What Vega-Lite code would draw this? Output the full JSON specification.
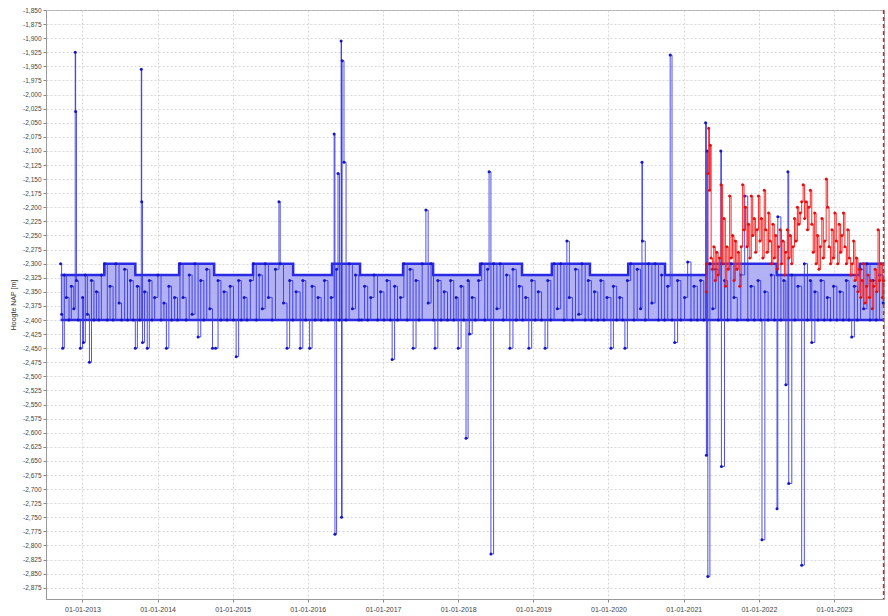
{
"$schema": "https://vega.github.io/schema/vega-lite/v6.json",
"width": 838, "height": 589,
"autosize": "none",
"padding": {"left": 46, "top": 10, "right": 4, "bottom": 17},
"background": "white",
"config": {
  "font": "Liberation Sans",
  "view": {"stroke": "#aaaaaa", "strokeWidth": 1},
  "axis": {"labelFontSize": 7, "labelColor": "#444444", "tickColor": "#888888", "tickSize": 3, "domainColor": "#999999", "gridColor": "#cccccc", "gridDash": [2, 2], "gridWidth": 0.8, "titleFontSize": 7, "titleFontWeight": "normal", "titleColor": "#333333", "labelOverlap": false, "labelBound": false}
},
"datasets": {
"levels": [
{"d":"2012-09-17","hi":-2.32,"lo":-2.40},{"d":"2013-04-17","hi":-2.30,"lo":-2.40},{"d":"2013-09-15","hi":-2.32,"lo":-2.40},{"d":"2014-04-16","hi":-2.30,"lo":-2.40},{"d":"2014-10-03","hi":-2.32,"lo":-2.40},{"d":"2015-04-10","hi":-2.30,"lo":-2.40},{"d":"2015-10-22","hi":-2.32,"lo":-2.40},{"d":"2016-04-28","hi":-2.30,"lo":-2.40},{"d":"2016-09-11","hi":-2.32,"lo":-2.40},{"d":"2017-04-08","hi":-2.30,"lo":-2.40},{"d":"2017-09-01","hi":-2.32,"lo":-2.40},{"d":"2018-04-17","hi":-2.30,"lo":-2.40},{"d":"2018-11-07","hi":-2.32,"lo":-2.40},{"d":"2019-04-01","hi":-2.30,"lo":-2.40},{"d":"2019-10-03","hi":-2.32,"lo":-2.40},{"d":"2020-04-06","hi":-2.30,"lo":-2.40},{"d":"2020-10-02","hi":-2.32,"lo":-2.40},{"d":"2021-04-22","hi":-2.30,"lo":-2.40},{"d":"2022-03-29","hi":-2.32,"lo":-2.40},{"d":"2023-05-06","hi":-2.30,"lo":-2.40},{"d":"2023-08-31","hi":-2.30,"lo":-2.40}
],
"blue": [
{"d":"2012-09-17","v":-2.30},{"d":"2012-09-22","v":-2.39},{"d":"2012-09-27","v":-2.45},{"d":"2012-10-05","v":-2.32},{"d":"2012-10-15","v":-2.36},{"d":"2012-10-28","v":-2.40},{"d":"2012-11-08","v":-2.34},{"d":"2012-11-20","v":-2.38},{"d":"2012-11-27","v":-1.925},{"d":"2012-11-29","v":-2.03},{"d":"2012-12-03","v":-2.33},{"d":"2012-12-12","v":-2.40},{"d":"2012-12-22","v":-2.45},{"d":"2013-01-02","v":-2.36},{"d":"2013-01-06","v":-2.44},{"d":"2013-01-15","v":-2.32},{"d":"2013-01-25","v":-2.39},{"d":"2013-02-04","v":-2.475},{"d":"2013-02-14","v":-2.33},{"d":"2013-02-26","v":-2.40},{"d":"2013-03-10","v":-2.35},{"d":"2013-03-22","v":-2.40},{"d":"2013-04-03","v":-2.32},{"d":"2013-04-20","v":-2.30},{"d":"2013-05-02","v":-2.40},{"d":"2013-05-15","v":-2.34},{"d":"2013-05-30","v":-2.40},{"d":"2013-06-12","v":-2.30},{"d":"2013-06-28","v":-2.37},{"d":"2013-07-10","v":-2.40},{"d":"2013-07-25","v":-2.31},{"d":"2013-08-08","v":-2.40},{"d":"2013-08-22","v":-2.33},{"d":"2013-09-05","v":-2.40},{"d":"2013-09-15","v":-2.45},{"d":"2013-09-25","v":-2.34},{"d":"2013-10-06","v":-2.40},{"d":"2013-10-14","v":-1.955},{"d":"2013-10-16","v":-2.19},{"d":"2013-10-20","v":-2.44},{"d":"2013-10-30","v":-2.35},{"d":"2013-11-12","v":-2.45},{"d":"2013-11-22","v":-2.33},{"d":"2013-12-05","v":-2.40},{"d":"2013-12-18","v":-2.36},{"d":"2014-01-03","v":-2.32},{"d":"2014-01-18","v":-2.40},{"d":"2014-02-01","v":-2.37},{"d":"2014-02-13","v":-2.45},{"d":"2014-02-25","v":-2.34},{"d":"2014-03-10","v":-2.40},{"d":"2014-03-25","v":-2.36},{"d":"2014-04-08","v":-2.40},{"d":"2014-04-20","v":-2.30},{"d":"2014-05-05","v":-2.36},{"d":"2014-05-20","v":-2.40},{"d":"2014-06-04","v":-2.32},{"d":"2014-06-18","v":-2.39},{"d":"2014-07-02","v":-2.30},{"d":"2014-07-17","v":-2.43},{"d":"2014-07-30","v":-2.33},{"d":"2014-08-14","v":-2.40},{"d":"2014-08-28","v":-2.31},{"d":"2014-09-12","v":-2.38},{"d":"2014-09-25","v":-2.45},{"d":"2014-10-10","v":-2.45},{"d":"2014-10-22","v":-2.33},{"d":"2014-11-05","v":-2.40},{"d":"2014-11-20","v":-2.35},{"d":"2014-12-05","v":-2.40},{"d":"2014-12-20","v":-2.34},{"d":"2015-01-05","v":-2.40},{"d":"2015-01-18","v":-2.465},{"d":"2015-01-30","v":-2.33},{"d":"2015-02-12","v":-2.40},{"d":"2015-02-26","v":-2.36},{"d":"2015-03-12","v":-2.40},{"d":"2015-03-28","v":-2.33},{"d":"2015-04-12","v":-2.30},{"d":"2015-04-26","v":-2.40},{"d":"2015-05-10","v":-2.32},{"d":"2015-05-25","v":-2.38},{"d":"2015-06-08","v":-2.30},{"d":"2015-06-24","v":-2.36},{"d":"2015-07-12","v":-2.40},{"d":"2015-07-28","v":-2.31},{"d":"2015-08-14","v":-2.19},{"d":"2015-08-20","v":-2.30},{"d":"2015-09-05","v":-2.37},{"d":"2015-09-22","v":-2.45},{"d":"2015-10-05","v":-2.33},{"d":"2015-10-20","v":-2.40},{"d":"2015-11-05","v":-2.35},{"d":"2015-11-25","v":-2.45},{"d":"2015-12-08","v":-2.33},{"d":"2015-12-22","v":-2.40},{"d":"2016-01-10","v":-2.45},{"d":"2016-01-22","v":-2.34},{"d":"2016-02-06","v":-2.40},{"d":"2016-02-20","v":-2.36},{"d":"2016-03-06","v":-2.40},{"d":"2016-03-22","v":-2.33},{"d":"2016-04-08","v":-2.40},{"d":"2016-04-24","v":-2.36},{"d":"2016-05-08","v":-2.07},{"d":"2016-05-12","v":-2.78},{"d":"2016-05-20","v":-2.31},{"d":"2016-05-27","v":-2.14},{"d":"2016-06-03","v":-2.40},{"d":"2016-06-11","v":-1.905},{"d":"2016-06-13","v":-2.75},{"d":"2016-06-16","v":-1.94},{"d":"2016-06-25","v":-2.12},{"d":"2016-07-05","v":-2.40},{"d":"2016-07-20","v":-2.30},{"d":"2016-08-05","v":-2.38},{"d":"2016-08-20","v":-2.32},{"d":"2016-09-05","v":-2.40},{"d":"2016-09-18","v":-2.40},{"d":"2016-10-03","v":-2.34},{"d":"2016-10-18","v":-2.40},{"d":"2016-11-02","v":-2.36},{"d":"2016-11-18","v":-2.32},{"d":"2016-12-05","v":-2.40},{"d":"2016-12-20","v":-2.35},{"d":"2017-01-05","v":-2.40},{"d":"2017-01-20","v":-2.33},{"d":"2017-02-05","v":-2.40},{"d":"2017-02-14","v":-2.47},{"d":"2017-02-26","v":-2.34},{"d":"2017-03-12","v":-2.40},{"d":"2017-03-27","v":-2.36},{"d":"2017-04-12","v":-2.30},{"d":"2017-04-28","v":-2.40},{"d":"2017-05-12","v":-2.31},{"d":"2017-05-27","v":-2.45},{"d":"2017-06-10","v":-2.33},{"d":"2017-06-25","v":-2.40},{"d":"2017-07-10","v":-2.30},{"d":"2017-07-28","v":-2.205},{"d":"2017-08-08","v":-2.37},{"d":"2017-08-22","v":-2.30},{"d":"2017-09-03","v":-2.40},{"d":"2017-09-10","v":-2.45},{"d":"2017-09-24","v":-2.33},{"d":"2017-10-10","v":-2.40},{"d":"2017-10-25","v":-2.35},{"d":"2017-11-10","v":-2.40},{"d":"2017-11-25","v":-2.33},{"d":"2017-12-10","v":-2.40},{"d":"2017-12-22","v":-2.36},{"d":"2018-01-01","v":-2.45},{"d":"2018-01-15","v":-2.34},{"d":"2018-01-28","v":-2.40},{"d":"2018-02-08","v":-2.61},{"d":"2018-02-18","v":-2.33},{"d":"2018-02-25","v":-2.425},{"d":"2018-03-10","v":-2.36},{"d":"2018-03-25","v":-2.40},{"d":"2018-04-10","v":-2.33},{"d":"2018-04-25","v":-2.30},{"d":"2018-05-10","v":-2.40},{"d":"2018-05-24","v":-2.31},{"d":"2018-05-31","v":-2.137},{"d":"2018-06-09","v":-2.815},{"d":"2018-06-22","v":-2.30},{"d":"2018-07-08","v":-2.38},{"d":"2018-07-24","v":-2.30},{"d":"2018-08-08","v":-2.40},{"d":"2018-08-24","v":-2.32},{"d":"2018-09-09","v":-2.45},{"d":"2018-09-24","v":-2.31},{"d":"2018-10-10","v":-2.40},{"d":"2018-10-25","v":-2.34},{"d":"2018-11-10","v":-2.40},{"d":"2018-11-25","v":-2.36},{"d":"2018-12-10","v":-2.45},{"d":"2018-12-24","v":-2.33},{"d":"2019-01-10","v":-2.40},{"d":"2019-01-25","v":-2.35},{"d":"2019-02-10","v":-2.40},{"d":"2019-02-27","v":-2.45},{"d":"2019-03-12","v":-2.33},{"d":"2019-03-27","v":-2.40},{"d":"2019-04-12","v":-2.30},{"d":"2019-04-28","v":-2.38},{"d":"2019-05-14","v":-2.30},{"d":"2019-05-30","v":-2.40},{"d":"2019-06-13","v":-2.26},{"d":"2019-06-25","v":-2.36},{"d":"2019-07-10","v":-2.40},{"d":"2019-07-25","v":-2.31},{"d":"2019-08-10","v":-2.39},{"d":"2019-08-25","v":-2.30},{"d":"2019-09-10","v":-2.40},{"d":"2019-09-25","v":-2.33},{"d":"2019-10-10","v":-2.40},{"d":"2019-10-25","v":-2.35},{"d":"2019-11-10","v":-2.40},{"d":"2019-11-25","v":-2.33},{"d":"2019-12-10","v":-2.40},{"d":"2019-12-25","v":-2.36},{"d":"2020-01-13","v":-2.45},{"d":"2020-01-25","v":-2.34},{"d":"2020-02-10","v":-2.40},{"d":"2020-02-25","v":-2.36},{"d":"2020-03-10","v":-2.40},{"d":"2020-03-21","v":-2.45},{"d":"2020-04-02","v":-2.33},{"d":"2020-04-18","v":-2.30},{"d":"2020-05-04","v":-2.40},{"d":"2020-05-20","v":-2.31},{"d":"2020-06-05","v":-2.38},{"d":"2020-06-12","v":-2.12},{"d":"2020-06-14","v":-2.26},{"d":"2020-06-28","v":-2.40},{"d":"2020-07-14","v":-2.30},{"d":"2020-07-30","v":-2.37},{"d":"2020-08-15","v":-2.30},{"d":"2020-08-31","v":-2.40},{"d":"2020-09-15","v":-2.32},{"d":"2020-09-30","v":-2.40},{"d":"2020-10-15","v":-2.34},{"d":"2020-10-27","v":-1.93},{"d":"2020-11-05","v":-2.40},{"d":"2020-11-18","v":-2.44},{"d":"2020-12-02","v":-2.33},{"d":"2020-12-18","v":-2.40},{"d":"2021-01-05","v":-2.36},{"d":"2021-01-20","v":-2.297},{"d":"2021-02-05","v":-2.40},{"d":"2021-02-20","v":-2.34},{"d":"2021-03-08","v":-2.40},{"d":"2021-03-24","v":-2.33},{"d":"2021-04-08","v":-2.40},{"d":"2021-04-17","v":-2.05},{"d":"2021-04-21","v":-2.64},{"d":"2021-04-25","v":-2.10},{"d":"2021-04-28","v":-2.855},{"d":"2021-05-08","v":-2.30},{"d":"2021-05-22","v":-2.38},{"d":"2021-06-05","v":-2.31},{"d":"2021-06-18","v":-2.40},{"d":"2021-06-30","v":-2.10},{"d":"2021-07-03","v":-2.66},{"d":"2021-07-18","v":-2.33},{"d":"2021-08-02","v":-2.40},{"d":"2021-08-18","v":-2.30},{"d":"2021-09-02","v":-2.36},{"d":"2021-09-18","v":-2.40},{"d":"2021-10-05","v":-2.32},{"d":"2021-10-24","v":-2.18},{"d":"2021-11-08","v":-2.40},{"d":"2021-11-24","v":-2.34},{"d":"2021-12-10","v":-2.40},{"d":"2021-12-28","v":-2.33},{"d":"2022-01-10","v":-2.40},{"d":"2022-01-16","v":-2.79},{"d":"2022-01-30","v":-2.35},{"d":"2022-02-15","v":-2.40},{"d":"2022-03-02","v":-2.32},{"d":"2022-03-18","v":-2.40},{"d":"2022-03-30","v":-2.735},{"d":"2022-04-03","v":-2.217},{"d":"2022-04-18","v":-2.40},{"d":"2022-05-02","v":-2.33},{"d":"2022-05-12","v":-2.515},{"d":"2022-05-22","v":-2.137},{"d":"2022-05-26","v":-2.69},{"d":"2022-06-10","v":-2.32},{"d":"2022-06-25","v":-2.40},{"d":"2022-07-10","v":-2.34},{"d":"2022-07-28","v":-2.835},{"d":"2022-08-10","v":-2.30},{"d":"2022-08-25","v":-2.40},{"d":"2022-09-08","v":-2.33},{"d":"2022-09-15","v":-2.44},{"d":"2022-09-30","v":-2.35},{"d":"2022-10-15","v":-2.40},{"d":"2022-10-30","v":-2.33},{"d":"2022-11-15","v":-2.40},{"d":"2022-11-30","v":-2.36},{"d":"2022-12-15","v":-2.40},{"d":"2022-12-30","v":-2.34},{"d":"2023-01-15","v":-2.40},{"d":"2023-01-30","v":-2.35},{"d":"2023-02-15","v":-2.40},{"d":"2023-03-02","v":-2.33},{"d":"2023-03-15","v":-2.40},{"d":"2023-03-28","v":-2.43},{"d":"2023-04-10","v":-2.34},{"d":"2023-04-25","v":-2.40},{"d":"2023-05-10","v":-2.31},{"d":"2023-05-25","v":-2.38},{"d":"2023-06-10","v":-2.30},{"d":"2023-06-25","v":-2.40},{"d":"2023-07-10","v":-2.33},{"d":"2023-07-25","v":-2.40},{"d":"2023-08-10","v":-2.32},{"d":"2023-08-28","v":-2.37}
],
"red": [
{"d":"2021-04-20","v":-2.35},{"d":"2021-04-24","v":-2.30},{"d":"2021-04-28","v":-2.14},{"d":"2021-05-02","v":-2.06},{"d":"2021-05-06","v":-2.17},{"d":"2021-05-10","v":-2.09},{"d":"2021-05-14","v":-2.29},{"d":"2021-05-20","v":-2.31},{"d":"2021-05-27","v":-2.27},{"d":"2021-06-03","v":-2.33},{"d":"2021-06-10","v":-2.28},{"d":"2021-06-17","v":-2.32},{"d":"2021-06-24","v":-2.29},{"d":"2021-07-01","v":-2.16},{"d":"2021-07-08","v":-2.30},{"d":"2021-07-15","v":-2.22},{"d":"2021-07-22","v":-2.34},{"d":"2021-07-29","v":-2.27},{"d":"2021-08-05","v":-2.31},{"d":"2021-08-12","v":-2.18},{"d":"2021-08-19","v":-2.29},{"d":"2021-08-26","v":-2.25},{"d":"2021-09-02","v":-2.33},{"d":"2021-09-09","v":-2.26},{"d":"2021-09-16","v":-2.31},{"d":"2021-09-23","v":-2.28},{"d":"2021-09-30","v":-2.34},{"d":"2021-10-07","v":-2.27},{"d":"2021-10-14","v":-2.16},{"d":"2021-10-21","v":-2.24},{"d":"2021-10-28","v":-2.20},{"d":"2021-11-04","v":-2.27},{"d":"2021-11-11","v":-2.23},{"d":"2021-11-18","v":-2.29},{"d":"2021-11-25","v":-2.18},{"d":"2021-12-02","v":-2.25},{"d":"2021-12-09","v":-2.22},{"d":"2021-12-16","v":-2.28},{"d":"2021-12-23","v":-2.24},{"d":"2021-12-30","v":-2.18},{"d":"2022-01-06","v":-2.26},{"d":"2022-01-13","v":-2.22},{"d":"2022-01-20","v":-2.29},{"d":"2022-01-27","v":-2.17},{"d":"2022-02-03","v":-2.24},{"d":"2022-02-10","v":-2.28},{"d":"2022-02-17","v":-2.21},{"d":"2022-02-24","v":-2.26},{"d":"2022-03-03","v":-2.30},{"d":"2022-03-10","v":-2.23},{"d":"2022-03-17","v":-2.29},{"d":"2022-03-24","v":-2.25},{"d":"2022-03-31","v":-2.31},{"d":"2022-04-07","v":-2.27},{"d":"2022-04-14","v":-2.24},{"d":"2022-04-21","v":-2.30},{"d":"2022-04-28","v":-2.26},{"d":"2022-05-05","v":-2.32},{"d":"2022-05-12","v":-2.28},{"d":"2022-05-19","v":-2.24},{"d":"2022-05-26","v":-2.29},{"d":"2022-06-02","v":-2.25},{"d":"2022-06-09","v":-2.30},{"d":"2022-06-16","v":-2.27},{"d":"2022-06-23","v":-2.22},{"d":"2022-06-30","v":-2.26},{"d":"2022-07-07","v":-2.20},{"d":"2022-07-14","v":-2.23},{"d":"2022-07-21","v":-2.21},{"d":"2022-07-28","v":-2.19},{"d":"2022-08-04","v":-2.16},{"d":"2022-08-11","v":-2.22},{"d":"2022-08-18","v":-2.19},{"d":"2022-08-25","v":-2.24},{"d":"2022-09-01","v":-2.20},{"d":"2022-09-08","v":-2.17},{"d":"2022-09-15","v":-2.23},{"d":"2022-09-22","v":-2.28},{"d":"2022-09-29","v":-2.21},{"d":"2022-10-06","v":-2.30},{"d":"2022-10-13","v":-2.25},{"d":"2022-10-20","v":-2.31},{"d":"2022-10-27","v":-2.27},{"d":"2022-11-03","v":-2.22},{"d":"2022-11-10","v":-2.29},{"d":"2022-11-17","v":-2.26},{"d":"2022-11-24","v":-2.15},{"d":"2022-12-01","v":-2.20},{"d":"2022-12-08","v":-2.27},{"d":"2022-12-15","v":-2.30},{"d":"2022-12-22","v":-2.24},{"d":"2022-12-29","v":-2.29},{"d":"2023-01-05","v":-2.21},{"d":"2023-01-12","v":-2.26},{"d":"2023-01-19","v":-2.30},{"d":"2023-01-26","v":-2.23},{"d":"2023-02-02","v":-2.28},{"d":"2023-02-09","v":-2.25},{"d":"2023-02-16","v":-2.21},{"d":"2023-02-23","v":-2.27},{"d":"2023-03-02","v":-2.30},{"d":"2023-03-09","v":-2.24},{"d":"2023-03-16","v":-2.29},{"d":"2023-03-23","v":-2.32},{"d":"2023-03-30","v":-2.30},{"d":"2023-04-06","v":-2.26},{"d":"2023-04-13","v":-2.33},{"d":"2023-04-20","v":-2.29},{"d":"2023-04-27","v":-2.35},{"d":"2023-05-04","v":-2.31},{"d":"2023-05-11","v":-2.36},{"d":"2023-05-18","v":-2.33},{"d":"2023-05-25","v":-2.30},{"d":"2023-06-01","v":-2.37},{"d":"2023-06-08","v":-2.34},{"d":"2023-06-15","v":-2.32},{"d":"2023-06-22","v":-2.36},{"d":"2023-06-29","v":-2.33},{"d":"2023-07-06","v":-2.38},{"d":"2023-07-13","v":-2.34},{"d":"2023-07-20","v":-2.31},{"d":"2023-07-27","v":-2.35},{"d":"2023-08-03","v":-2.24},{"d":"2023-08-10","v":-2.33},{"d":"2023-08-17","v":-2.30},{"d":"2023-08-24","v":-2.36},{"d":"2023-08-30","v":-2.33}
],
"marker": [{"d":"2023-08-30"}]
},
"encoding": {
  "x": {"field": "d", "type": "temporal", "title": null,
        "scale": {"domain": ["2012-07-08", "2023-09-01"], "nice": false},
        "axis": {"format": "%d-%m-%Y", "tickCount": {"interval": "year", "step": 1}, "labelPadding": 3, "grid": true}}
},
"layer": [
  {"data": {"name": "levels"}, "mark": {"type": "area", "interpolate": "step-after", "color": "#a9a9f2", "opacity": 0.9},
   "encoding": {
     "y": {"field": "hi", "type": "quantitative", "title": "Hoogte NAP [m]",
           "scale": {"domain": [-2.895, -1.85], "nice": false, "zero": false},
           "axis": {"values": [-1.85,-1.875,-1.9,-1.925,-1.95,-1.975,-2.0,-2.025,-2.05,-2.075,-2.1,-2.125,-2.15,-2.175,-2.2,-2.225,-2.25,-2.275,-2.3,-2.325,-2.35,-2.375,-2.4,-2.425,-2.45,-2.475,-2.5,-2.525,-2.55,-2.575,-2.6,-2.625,-2.65,-2.675,-2.7,-2.725,-2.75,-2.775,-2.8,-2.825,-2.85,-2.875],
                    "tickCount": 60,
                    "labelExpr": "'-' + replace(format(abs(datum.value), '.3f'), '.', ',')", "labelFontSize": 6.5, "titlePadding": 6, "grid": true}},
     "y2": {"field": "lo"}}},
  {"data": {"name": "levels"}, "mark": {"type": "line", "interpolate": "step-after", "color": "#2a2ae6", "strokeWidth": 2.5},
   "encoding": {"y": {"field": "hi", "type": "quantitative"}}},
  {"data": {"name": "levels"}, "mark": {"type": "line", "interpolate": "step-after", "color": "#2a2ae6", "strokeWidth": 2.5},
   "encoding": {"y": {"field": "lo", "type": "quantitative"}}},
  {"data": {"name": "blue"}, "mark": {"type": "line", "interpolate": "step-after", "color": "#3333e0", "strokeWidth": 1, "opacity": 0.85, "point": {"filled": true, "size": 9, "color": "#1414c8"}},
   "encoding": {"y": {"field": "v", "type": "quantitative"}}},
  {"data": {"name": "red"}, "mark": {"type": "line", "interpolate": "step-after", "color": "#ff2a2a", "strokeWidth": 1, "point": {"filled": true, "size": 9, "color": "#e01010"}},
   "encoding": {"y": {"field": "v", "type": "quantitative"}}},
  {"data": {"name": "marker"}, "mark": {"type": "rule", "color": "#e02020", "strokeWidth": 1.5, "strokeDash": [4, 3]},
   "encoding": {}}
]
}
